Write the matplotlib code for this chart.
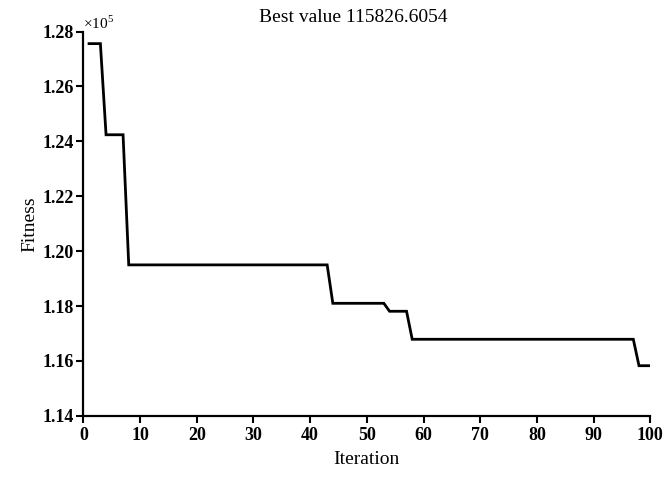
"""Best-so-far fitness curve over 100 iterations."""

import matplotlib

matplotlib.use("Agg")
import matplotlib.pyplot as plt
from matplotlib.ticker import FuncFormatter

plt.rcParams["font.family"] = ["Liberation Serif", "DejaVu Serif"]
plt.rcParams["mathtext.fontset"] = "custom"
plt.rcParams["mathtext.rm"] = "Liberation Serif"

# best fitness found at each iteration
iterations = list(range(1, 101))
fitness = [
    127560, 127560, 127560, 124240, 124240, 124240, 124240, 119500, 119500, 119500,
    119500, 119500, 119500, 119500, 119500, 119500, 119500, 119500, 119500, 119500,
    119500, 119500, 119500, 119500, 119500, 119500, 119500, 119500, 119500, 119500,
    119500, 119500, 119500, 119500, 119500, 119500, 119500, 119500, 119500, 119500,
    119500, 119500, 119500, 118100, 118100, 118100, 118100, 118100, 118100, 118100,
    118100, 118100, 118100, 117810, 117810, 117810, 117810, 116790, 116790, 116790,
    116790, 116790, 116790, 116790, 116790, 116790, 116790, 116790, 116790, 116790,
    116790, 116790, 116790, 116790, 116790, 116790, 116790, 116790, 116790, 116790,
    116790, 116790, 116790, 116790, 116790, 116790, 116790, 116790, 116790, 116790,
    116790, 116790, 116790, 116790, 116790, 116790, 116790, 115827, 115827, 115827,
]
best_value = 115826.6054

x_ticks = list(range(0, 101, 10))
y_ticks = [114000, 116000, 118000, 120000, 122000, 124000, 126000, 128000]

fig = plt.figure(figsize=(6.67, 4.78), dpi=100)
ax = fig.add_axes([0.125, 0.13, 0.85, 0.804])

ax.plot(iterations, fitness, color="black", linewidth=2.0, solid_joinstyle="miter")

ax.set_xlim(0, 100)
ax.set_ylim(114000, 128000)
ax.set_xticks(x_ticks)
ax.set_yticks(y_ticks)
ax.yaxis.set_major_formatter(FuncFormatter(lambda v, _: f"{v / 1e5:.2f}"))

for side in ("top", "right"):
    ax.spines[side].set_visible(False)
for side in ("left", "bottom"):
    ax.spines[side].set_linewidth(1.6)
ax.tick_params(direction="out", length=5, width=1.5, labelsize=13)
ax.tick_params(axis="x", pad=3)
ax.tick_params(axis="y", pad=2)
for lab in ax.get_xticklabels() + ax.get_yticklabels():
    lab.set_fontweight("bold")

ax.text(0.0, 1.0, r"$\times10^5$", transform=ax.transAxes,
        fontsize=11, ha="left", va="bottom")

ax.set_title(f"Best value {best_value:.4f}", fontsize=14, x=0.476, pad=7)
ax.set_xlabel("Iteration", fontsize=14, labelpad=5)
ax.set_ylabel("Fitness", fontsize=14, labelpad=3)

fig.savefig("out.png", dpi=100)
